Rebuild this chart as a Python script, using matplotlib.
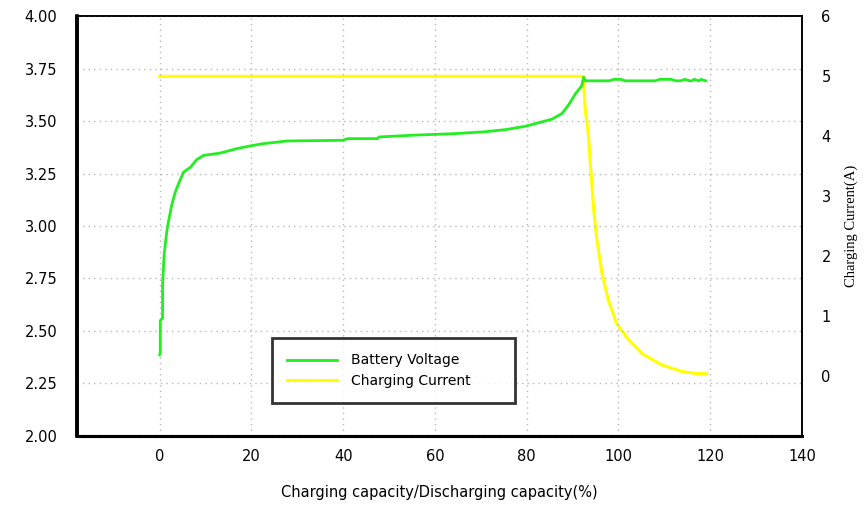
import matplotlib
matplotlib.use("Agg")
import matplotlib.pyplot as plt

# Battery voltage (V) vs charging capacity (%)
volt_x = [0.0, 0.15, 0.15, 0.65, 0.65, 1.0, 1.6, 2.1, 2.7, 3.4, 4.1, 5.2, 6.7, 8.1, 9.6,
          13.2, 16.8, 19.7, 22.6, 27.9, 39.9, 41.0, 47.5, 47.8, 55.8, 64.5, 71.0, 75.4,
          79.7, 83.3, 85.5, 87.7, 89.1, 90.6, 92.0, 92.4, 92.8, 98.0, 99.0, 100.5, 101.5,
          108.0, 109.0, 111.5, 112.5, 113.5, 114.5, 115.5, 116.0, 116.5, 117.5, 118.0, 119.0]
volt_y = [2.385, 2.39, 2.548, 2.56, 2.72, 2.867, 2.98, 3.04, 3.106, 3.16, 3.20, 3.257, 3.28,
          3.317, 3.337, 3.348, 3.369, 3.382, 3.393, 3.406, 3.409, 3.417, 3.417, 3.425, 3.434,
          3.441, 3.45, 3.46, 3.476, 3.497, 3.51, 3.537, 3.577, 3.63, 3.67, 3.71, 3.693, 3.693,
          3.70, 3.70, 3.693, 3.693, 3.70, 3.70, 3.693, 3.693, 3.70, 3.693, 3.693, 3.70, 3.693,
          3.70, 3.693]

# Charging current (A) vs charging capacity (%)
curr_x = [0.0, 92.4, 92.7, 93.5, 93.8, 94.2, 94.6, 95.3, 96.4, 97.8, 99.6, 102.2, 105.1,
          109.4, 113.8, 116.5, 119.2]
curr_y = [5.0, 5.0, 4.49, 3.99, 3.60, 3.21, 2.77, 2.27, 1.71, 1.26, 0.87, 0.60, 0.37,
          0.18, 0.07, 0.04, 0.03]

x_ticks = [0, 20, 40, 60, 80, 100, 120, 140]
left_ticks = [2.00, 2.25, 2.50, 2.75, 3.00, 3.25, 3.50, 3.75, 4.00]
right_ticks = [0, 1, 2, 3, 4, 5, 6]

fig = plt.figure(figsize=(8.64, 5.08), dpi=100)
fig.subplots_adjust(left=77/864, right=802/864, top=1-16.5/508, bottom=1-435.5/508)
ax = fig.add_subplot(111)
ax2 = ax.twinx()

ax.set_xlim(-18, 140)
ax.set_ylim(2.0, 4.0)
ax2.set_ylim(-1, 6)

ax.set_xticks(x_ticks)
ax.set_yticks(left_ticks)
ax.set_yticklabels([f"{v:.2f}" for v in left_ticks])
ax2.set_yticks(right_ticks)

ax.grid(True, color="#b8b8b8", linestyle=(0, (1, 3)), linewidth=1.0)
ax.set_axisbelow(True)

l1, = ax.plot(volt_x, volt_y, color="#22ee22", linewidth=2.0, label="Battery Voltage", zorder=3)
l2, = ax2.plot(curr_x, curr_y, color="#ffff00", linewidth=2.2, label="Charging Current", zorder=3)

for a in (ax, ax2):
    a.tick_params(length=0, labelsize=10.5)
    a.spines["left"].set_linewidth(2.6)
    a.spines["bottom"].set_linewidth(2.2)
    a.spines["top"].set_linewidth(1.2)
    a.spines["right"].set_linewidth(1.2)
ax.tick_params(axis="y", pad=14)
ax.tick_params(axis="x", pad=10)
ax2.tick_params(axis="y", pad=14)

ax.set_xlabel("Charging capacity/Discharging capacity(%)", fontsize=10.5, labelpad=15)
ax2.set_ylabel("Charging Current(A)", fontsize=10.5, family="Liberation Serif",
               rotation=90, labelpad=10)

leg = ax.legend(handles=[l1, l2], loc="lower left",
                bbox_to_anchor=(0.269, 0.0776, 0.335, 0.155), mode="expand",
                borderaxespad=0, fontsize=10, frameon=True, fancybox=False,
                handlelength=3.6, handletextpad=1.0, labelspacing=0.45, borderpad=1.1)
leg.get_frame().set_edgecolor("black")
leg.get_frame().set_linewidth(2.0)
leg.set_zorder(5)
ax.set_zorder(ax2.get_zorder() + 1)
ax.patch.set_visible(False)

fig.savefig("out.png", dpi=100, facecolor="white")
